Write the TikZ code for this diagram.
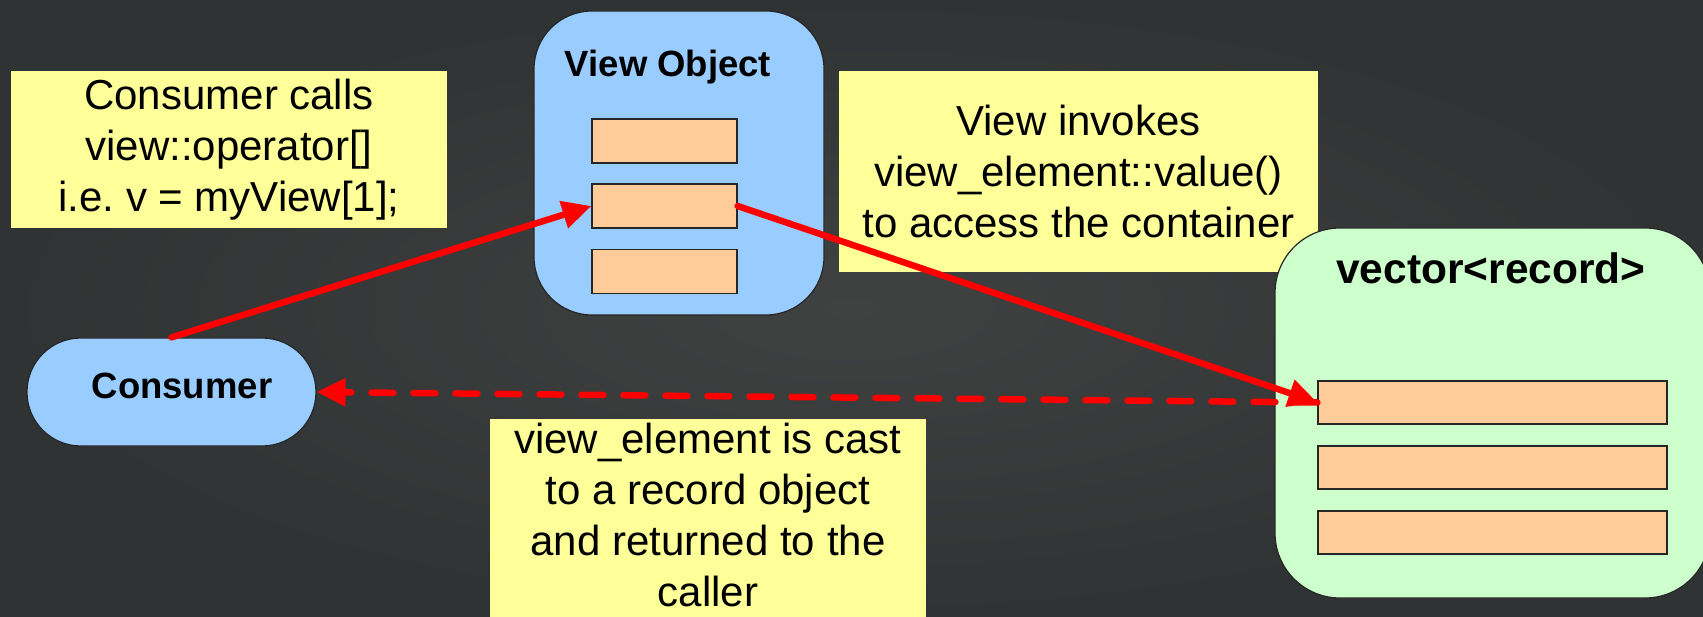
\documentclass[tikz,border=0pt]{standalone}
\usepackage{fontspec}
\setmainfont{Liberation Sans}
\usetikzlibrary{arrows.meta,calc,positioning}
\definecolor{board}{HTML}{3F4241}
\definecolor{boardedge}{HTML}{303333}
\definecolor{note}{HTML}{FFFF99}
\definecolor{skyblue}{HTML}{99CCFF}
\definecolor{mint}{HTML}{CCFFCC}
\definecolor{peach}{HTML}{FFCC99}

\begin{document}
\begin{tikzpicture}[x=1pt,y=-1pt,>={Triangle[length=29pt,width=27pt]},
 notebox/.style={fill=note,inner sep=0pt,align=center,font=\fontsize{42}{51}\selectfont},
 holder/.style={draw=black!85,line width=1.2pt,inner sep=0pt},
 slot/.style={holder,fill=peach},
 flow/.style={red,line width=6.5pt,line cap=round,->}]
 \useasboundingbox(0,0)rectangle(1703,617);
 \clip(0,0)rectangle(1703,617);
 \shade[inner color=board,outer color=boardedge](0,0)rectangle(1703,617);
 % notes
 \node[notebox,minimum width=436pt,minimum height=157pt](callnote)at(229,149.5)
  {Consumer calls\\view::operator[]\\ i.e.\ v = myView[1];};
 \node[notebox,minimum width=479pt,minimum height=201pt](invnote)at(1078.5,171.5)
  {View invokes\\view\_element::value()\\to access the container};
 \node[notebox,minimum width=436pt,inner ysep=4pt,text depth=40pt,anchor=north](castnote)at(708,419)
  {view\_element is cast\\to a record object\\and returned to the\\caller};
 % view object
 \node[holder,fill=skyblue,rounded corners=58pt,minimum width=290pt,minimum height=304pt](view)at(679,163){};
 \node[font=\bfseries\fontsize{36.5}{44}\selectfont,anchor=base](viewtitle)at(668,77){View Object};
 \foreach \i/\y in {1/141,2/206,3/271.5}
  \node[slot,minimum width=145pt,minimum height=44pt](v\i)at(664.5,\y){};
 % container
 \node[holder,fill=mint,rounded corners=65pt,minimum width=435pt,minimum height=370pt](vec)at(1492.5,413){};
 \node[font=\bfseries\fontsize{42.5}{50}\selectfont,anchor=base](vectitle)at(1491,284){vector<record>};
 \foreach \i/\y in {1/402.5,2/467.5,3/532.5}
  \node[slot,minimum width=349pt,minimum height=43pt](r\i)at(1492.5,\y){};
 % consumer
 \node[holder,fill=skyblue,rounded corners=53.9pt,minimum width=289pt,minimum height=108pt](cons)at(171.5,392){};
 \node[font=\bfseries\fontsize{36.5}{44}\selectfont,anchor=base](constext)at(182,399){Consumer};
 % calls
 \draw[flow](cons.north)--(v2.west);
 \draw[flow](v2.east)--(r1.west);
 \draw[flow,dash pattern=on 22pt off 20pt](r1.west)--(cons.east);
\end{tikzpicture}
\end{document}
